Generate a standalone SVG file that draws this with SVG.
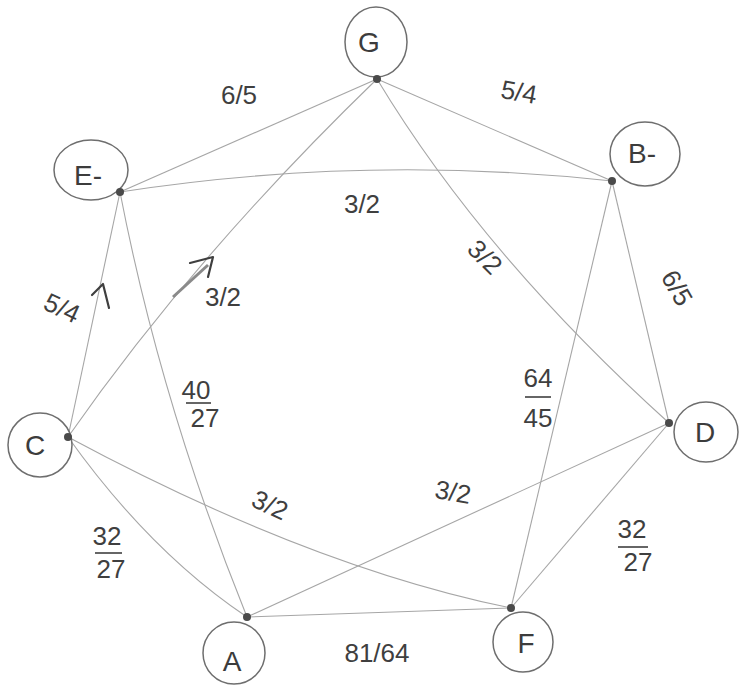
<svg xmlns="http://www.w3.org/2000/svg" width="742" height="691" viewBox="0 0 742 691">
<style>
.node ellipse{fill:#fff;stroke:#6e6e6e;stroke-width:1.5}
.node .dot{fill:#4a4a4a;stroke:none}
.node text{font-family:"Liberation Sans",Arial,sans-serif;font-size:28px;fill:#3c3c3c;text-anchor:middle;dominant-baseline:central}
#edges path{fill:none;stroke:#a6a6a6;stroke-width:1.1}
#edges path.smudge{stroke:#8a8a8a;stroke-width:3}
#edges path.arr{fill:none;stroke:#3f3f3f;stroke-width:2.2;stroke-linecap:round;stroke-linejoin:round}
.lbl{font-family:"Liberation Sans",Arial,sans-serif;font-size:26px;fill:#3f3f3f;text-anchor:middle;dominant-baseline:central}
.bar{stroke:#3f3f3f;stroke-width:1.6}
</style>
<rect width="742" height="691" fill="#fff"/>
<g id="edges">
<path d="M377,79 L120,192"/>
<path d="M377,79 L612,181"/>
<path d="M120,192 Q366,154 612,181"/>
<path d="M377,79 Q195,255 68,437"/>
<path d="M377,79 Q483,255 669,423"/>
<path d="M120,192 Q161,404 247,617"/>
<path d="M120,192 L68,437"/>
<path d="M612,181 L669,423"/>
<path d="M612,181 L511,608"/>
<path d="M68,437 Q150,552 247,617"/>
<path d="M68,437 Q310,567 511,608"/>
<path d="M669,423 L247,617"/>
<path d="M669,423 L511,608"/>
<path d="M247,617 L511,608"/>
<path class="smudge" d="M173,297 L208,265"/>
<path class="arr" d="M190,263 L213,257 L208,277"/>
<path class="arr" d="M92,295 L103,284 L109,308"/>
</g>
<g id="labels">
<text class="lbl" x="239" y="95" font-size="28">6/5</text>
<text class="lbl" x="519" y="92" font-size="28" transform="rotate(10 519 92)">5/4</text>
<text class="lbl" x="362" y="204">3/2</text>
<text class="lbl" x="485" y="257" transform="rotate(45 485 257)">3/2</text>
<text class="lbl" x="677" y="288" transform="rotate(60 677 288)">6/5</text>
<text class="lbl" x="538" y="378">64</text>
<line class="bar" x1="525" y1="397" x2="551" y2="397"/>
<text class="lbl" x="538" y="418">45</text>
<text class="lbl" x="196" y="390">40</text>
<line class="bar" x1="186" y1="403" x2="211" y2="403"/>
<text class="lbl" x="205" y="418">27</text>
<text class="lbl" x="270" y="505" transform="rotate(25 270 505)">3/2</text>
<text class="lbl" x="107" y="536">32</text>
<line class="bar" x1="95" y1="553" x2="122" y2="553"/>
<text class="lbl" x="111" y="569">27</text>
<text class="lbl" x="453" y="492" transform="rotate(10 453 492)">3/2</text>
<text class="lbl" x="632" y="529">32</text>
<line class="bar" x1="618" y1="547" x2="648" y2="547"/>
<text class="lbl" x="638" y="562">27</text>
<text class="lbl" x="377" y="653">81/64</text>
<text class="lbl" x="223" y="297">3/2</text>
<text class="lbl" x="62" y="308" font-size="28" transform="rotate(25 62 308)">5/4</text>
</g>
<g id="node-G" class="node"><ellipse cx="376" cy="42" rx="31" ry="35"/><text x="369" y="42">G</text><circle class="dot" cx="377" cy="79" r="4"/></g>
<g id="node-Eflat" class="node"><ellipse cx="91" cy="170" rx="37" ry="30"/><text x="88" y="175">E-</text><circle class="dot" cx="120" cy="192" r="4"/></g>
<g id="node-Bflat" class="node"><ellipse cx="645" cy="154" rx="35" ry="32"/><text x="642" y="153">B-</text><circle class="dot" cx="612" cy="181" r="4"/></g>
<g id="node-C" class="node"><ellipse cx="40" cy="445" rx="32" ry="32"/><text x="35" y="445">C</text><circle class="dot" cx="68" cy="437" r="4"/></g>
<g id="node-D" class="node"><ellipse cx="706" cy="432" rx="32" ry="30"/><text x="705" y="432">D</text><circle class="dot" cx="669" cy="423" r="4"/></g>
<g id="node-A" class="node"><ellipse cx="234" cy="653" rx="31" ry="31"/><text x="232" y="661">A</text><circle class="dot" cx="247" cy="617" r="4"/></g>
<g id="node-F" class="node"><ellipse cx="523" cy="642" rx="30" ry="30"/><text x="526" y="643">F</text><circle class="dot" cx="511" cy="608" r="4"/></g>
</svg>
